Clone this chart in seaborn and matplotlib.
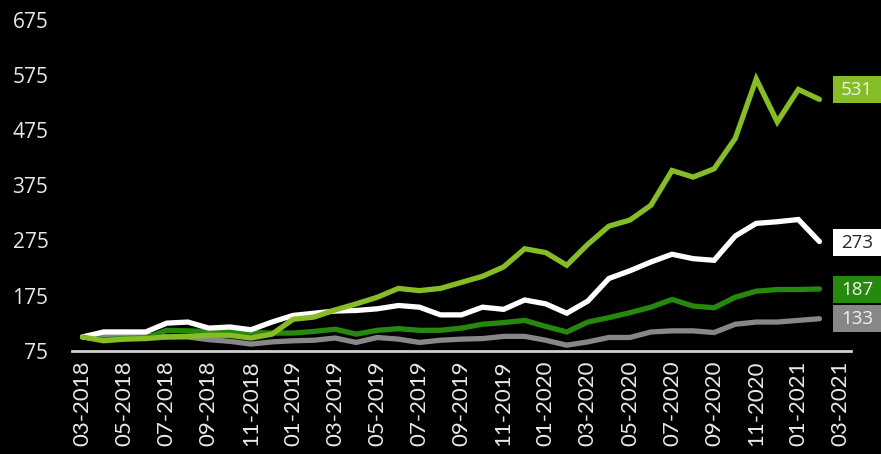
import matplotlib
matplotlib.use("Agg")
import matplotlib.pyplot as plt
import pandas as pd
import seaborn as sns
from matplotlib.patches import Rectangle
from matplotlib.transforms import blended_transform_factory

# Month categories on the x axis (the last month has no data yet)
months = [
    "03-2018", "04-2018", "05-2018", "06-2018", "07-2018", "08-2018", "09-2018",
    "10-2018", "11-2018", "12-2018", "01-2019", "02-2019", "03-2019", "04-2019",
    "05-2019", "06-2019", "07-2019", "08-2019", "09-2019", "10-2019", "11-2019",
    "12-2019", "01-2020", "02-2020", "03-2020", "04-2020", "05-2020", "06-2020",
    "07-2020", "08-2020", "09-2020", "10-2020", "11-2020", "12-2020", "01-2021",
    "02-2021", "03-2021",
]

# Indexed series (03-2018 = 100)
light_green = [100, 93, 96, 97, 100, 101, 103, 103, 98, 105, 132, 136, 149, 160,
               172, 188, 184, 188, 199, 210, 227, 260, 253, 230, 268, 301, 312,
               339, 402, 390, 405, 460, 568, 490, 549, 531]
white = [100, 109, 109, 109, 125, 127, 116, 118, 113, 127, 139, 143, 147, 148,
         151, 157, 154, 140, 140, 154, 150, 167, 160, 143, 165, 206, 220, 236,
         250, 242, 239, 283, 306, 309, 313, 273]
dark_green = [100, 95, 97, 98, 112, 111, 110, 111, 108, 107, 107, 110, 114, 105,
              112, 115, 112, 112, 116, 123, 126, 130, 119, 109, 127, 135, 144,
              154, 168, 156, 153, 172, 183, 186, 186, 187]
gray = [100, 102, 103, 103, 100, 100, 95, 92, 87, 91, 93, 94, 98, 90, 99, 96,
        90, 94, 96, 97, 101, 101, 94, 85, 91, 99, 99, 109, 111, 111, 108, 123,
        127, 127, 130, 133]

y_ticks = [75, 175, 275, 375, 475, 575, 675]

series = {"gray": gray, "dark_green": dark_green, "white": white, "light_green": light_green}
colors = {"gray": "#878787", "dark_green": "#26890D", "white": "#FFFFFF", "light_green": "#86BC25"}
text_colors = {"gray": "#F2F2F2", "dark_green": "#F2F2F2", "white": "#262626", "light_green": "#F2F2F2"}
# vertical nudge (data units) of the end-value boxes
box_shift = {"gray": 0, "dark_green": -1, "white": -2, "light_green": 17}

rows = []
for name, vals in series.items():
    for i, v in enumerate(vals):
        rows.append({"pos": i, "value": v, "series": name})
df = pd.DataFrame(rows)

sns.set_style("white")
plt.rcParams["font.family"] = ["Open Sans", "DejaVu Sans"]

fig = plt.figure(figsize=(8.81, 4.54), dpi=100, facecolor="black")
ax = fig.add_axes([72 / 881, (454 - 350.7) / 454, (851 - 72) / 881, (350.7 - 20) / 454])
ax.set_facecolor("black")

order = ["gray", "dark_green", "white", "light_green"]
sns.lineplot(data=df, x="pos", y="value", hue="series", hue_order=order,
             palette=colors, linewidth=3.8, legend=False, estimator=None,
             sort=False, ax=ax)
for ln in ax.lines:
    ln.set_solid_capstyle("round")
    ln.set_solid_joinstyle("miter")

ax.set_xlim(-0.5, len(months) - 0.5)
ax.set_ylim(75, 675)
ax.set_yticks(y_ticks)
ax.set_yticklabels([str(t) for t in y_ticks], fontsize=15, color="#E8E8E8")
ax.set_xticks(range(0, len(months), 2))
ax.set_xticklabels(months[::2], rotation=90, fontsize=16, color="#E8E8E8",
                   family=["Lato", "DejaVu Sans"])
ax.tick_params(axis="y", length=0, pad=17)
ax.tick_params(axis="x", length=0, pad=7)
ax.set_xlabel("")
ax.set_ylabel("")
for side in ["top", "right", "left"]:
    ax.spines[side].set_visible(False)
ax.spines["bottom"].set_color("#D0D0D0")
ax.spines["bottom"].set_linewidth(2)
ax.grid(False)

# End-value boxes to the right of the plot
trans = blended_transform_factory(ax.transAxes, ax.transData)
px_per_unit = (350.7 - 20) / 600
box_h = 27 / px_per_unit
box_x0 = (833 - 72) / (851 - 72)
box_w = 48 / (851 - 72)
for name in order:
    last = series[name][-1]
    yc = last + box_shift[name]
    ax.add_patch(Rectangle((box_x0, yc - box_h / 2), box_w, box_h, transform=trans,
                           facecolor=colors[name], edgecolor="none", clip_on=False))
    ax.text(box_x0 + box_w / 2, yc, f"{last:d}", transform=trans, ha="center",
            va="center", fontsize=13.5, color=text_colors[name], clip_on=False)

fig.savefig("out.png", dpi=100, facecolor="black")
